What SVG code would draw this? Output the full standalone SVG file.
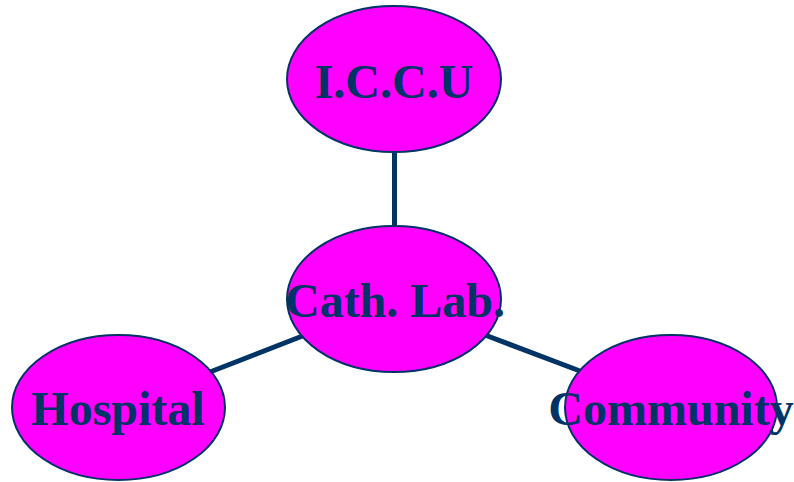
<svg xmlns="http://www.w3.org/2000/svg" width="794" height="482" viewBox="0 0 794 482">
<style>
.node ellipse{fill:#FF00FF;stroke:#003366;stroke-width:2}
.node text{font-family:"Liberation Serif","Times New Roman",serif;font-weight:bold;font-size:48px;fill:#003366;text-anchor:middle}
.conn line{stroke:#003366;stroke-width:5;stroke-linecap:butt}
</style>
<rect width="794" height="482" fill="#FFFFFF"/>
<g id="connectors" class="conn">
<line x1="394.5" y1="150" x2="394.5" y2="228"/>
<line x1="305" y1="335" x2="210" y2="372"/>
<line x1="485" y1="335" x2="580" y2="371"/>
</g>
<g id="iccu" class="node">
<ellipse cx="394" cy="79" rx="107" ry="73"/>
<text x="394" y="98">I.C.C.U</text>
</g>
<g id="cathlab" class="node">
<ellipse cx="394" cy="299" rx="107" ry="73"/>
<text x="395" y="317">Cath. Lab.</text>
</g>
<g id="hospital" class="node">
<ellipse cx="118.5" cy="407.5" rx="106.5" ry="72.5"/>
<text x="118" y="425">Hospital</text>
</g>
<g id="community" class="node">
<ellipse cx="671" cy="407.5" rx="106" ry="72.5"/>
<text x="671" y="425">Community</text>
</g>
</svg>
